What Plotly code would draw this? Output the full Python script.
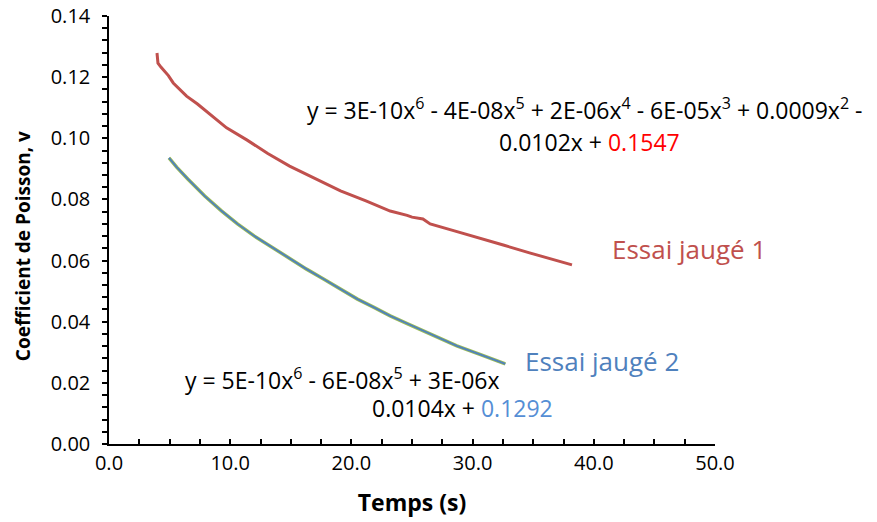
import plotly.graph_objects as go

# --- data ---
essai1_t = [3.96, 4.0, 4.04, 4.3, 4.6, 4.9, 5.3, 5.8, 6.4, 7.3, 8.3, 9.7, 11.4, 13.1,
            14.9, 17.0, 19.1, 21.2, 23.2, 24.6, 25.0, 25.9, 26.5, 28.5, 30.6, 32.6,
            34.7, 36.5, 38.2]
essai1_v = [0.1279, 0.1262, 0.1246, 0.1232, 0.1220, 0.1205, 0.1181, 0.1160, 0.1138,
            0.1112, 0.1079, 0.1034, 0.0994, 0.0950, 0.0909, 0.0868, 0.0828, 0.0795,
            0.0762, 0.0748, 0.0742, 0.0736, 0.0720, 0.0697, 0.0674, 0.0650, 0.0625,
            0.0606, 0.0586]

essai2_t = [4.95, 5.6, 6.5, 7.9, 9.3, 10.6, 12.0, 13.4, 14.9, 16.3, 17.7, 19.1, 20.5,
            21.9, 23.2, 24.6, 25.9, 27.3, 28.7, 30.6, 32.5, 32.7]
essai2_v = [0.0936, 0.0905, 0.0867, 0.0811, 0.0762, 0.0720, 0.0680, 0.0645, 0.0606,
            0.0572, 0.0540, 0.0506, 0.0474, 0.0446, 0.0419, 0.0394, 0.0370, 0.0345,
            0.0321, 0.0293, 0.0266, 0.0262]

x_ticks = [0, 10, 20, 30, 40, 50]
x_tick_labels = ["0.0", "10.0", "20.0", "30.0", "40.0", "50.0"]
y_ticks = [0.00, 0.02, 0.04, 0.06, 0.08, 0.10, 0.12, 0.14]
y_tick_labels = ["0.00", "0.02", "0.04", "0.06", "0.08", "0.10", "0.12", "0.14"]

RED = "#C0504D"
GREEN = "#9BBB59"
BLUE = "#4F81BD"
FONT = "Open Sans"

fig = go.Figure()
fig.add_trace(go.Scatter(x=essai1_t, y=essai1_v, mode="lines",
                         line=dict(color=RED, width=3), showlegend=False))
fig.add_trace(go.Scatter(x=essai2_t, y=essai2_v, mode="lines",
                         line=dict(color=GREEN, width=3.5), showlegend=False))
fig.add_trace(go.Scatter(x=essai2_t, y=essai2_v, mode="lines",
                         line=dict(color=BLUE, width=1.8), showlegend=False))

eq_font = dict(family=FONT, size=23, color="black")
fig.add_annotation(x=39.27, y=0.1096, xref="x", yref="y", xanchor="center", yanchor="middle",
                   text="y = 3E-10x<sup>6</sup> - 4E-08x<sup>5</sup> + 2E-06x<sup>4</sup> - 6E-05x<sup>3</sup> + 0.0009x<sup>2</sup> -",
                   showarrow=False, font=eq_font)
fig.add_annotation(x=39.68, y=0.0988, xref="x", yref="y", xanchor="center", yanchor="middle",
                   text="0.0102x + <span style='color:#FF0000'>0.1547</span>",
                   showarrow=False, font=eq_font)
fig.add_annotation(x=6.1, y=0.0213, xref="x", yref="y", xanchor="left", yanchor="middle",
                   text="y = 5E-10x<sup>6</sup> - 6E-08x<sup>5</sup> + 3E-06x",
                   showarrow=False, font=eq_font)
fig.add_annotation(x=29.2, y=0.0118, xref="x", yref="y", xanchor="center", yanchor="middle",
                   text="0.0104x + <span style='color:#558ED5'>0.1292</span>",
                   showarrow=False, font=eq_font)
fig.add_annotation(x=47.85, y=0.0638, xref="x", yref="y", xanchor="center", yanchor="middle",
                   text="Essai jaugé 1", showarrow=False,
                   font=dict(family=FONT, size=26, color=RED))
fig.add_annotation(x=40.68, y=0.0271, xref="x", yref="y", xanchor="center", yanchor="middle",
                   text="Essai jaugé 2", showarrow=False,
                   font=dict(family=FONT, size=26, color=BLUE))
# y-axis title (placed as rotated text to match the reference position)
fig.add_annotation(x=-0.142, y=0.462, xref="paper", yref="paper", xanchor="center", yanchor="middle",
                   text="<b>Coefficient de Poisson, v</b>", textangle=-90, showarrow=False,
                   font=dict(family=FONT, size=19, color="black"))

fig.update_layout(
    width=877, height=522,
    margin=dict(l=101, r=170, t=8, b=86, autoexpand=False),
    paper_bgcolor="white", plot_bgcolor="white",
    font=dict(family=FONT, color="black"),
)
fig.update_xaxes(
    range=[0, 50], tickvals=x_ticks, ticktext=x_tick_labels, automargin=False,
    showgrid=False, zeroline=False, showline=True, linecolor="black", linewidth=1.5,
    ticks="inside", ticklen=5, tickcolor="black", tickwidth=1.5,
    minor=dict(dtick=2.5, ticks="inside", ticklen=5, tickcolor="black", tickwidth=1.5),
    tickfont=dict(family=FONT, size=20, color="black"), ticklabeloverflow="allow",
    title=dict(text="<b>Temps (s)</b>", font=dict(family=FONT, size=23, color="black"), standoff=20),
)
fig.update_yaxes(
    range=[0, 0.14], tickvals=y_ticks, ticktext=y_tick_labels, automargin=False,
    showgrid=False, zeroline=False, showline=True, linecolor="black", linewidth=1.5,
    ticks="outside", ticklen=5, tickcolor="black", tickwidth=1.5, ticklabelstandoff=8,
    minor=dict(dtick=0.004, ticks="outside", ticklen=5, tickcolor="black", tickwidth=1.5),
    tickfont=dict(family=FONT, size=20, color="black"), ticklabeloverflow="allow",
)

fig.write_html("out.html")
